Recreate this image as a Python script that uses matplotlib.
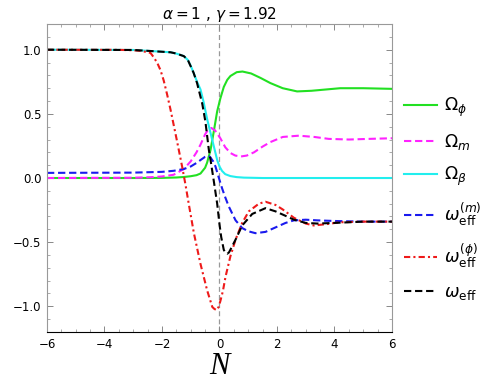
import numpy as np
import matplotlib
matplotlib.use("Agg")
import matplotlib.pyplot as plt

# values
N_phi = [-6, -3, -2, -1.5, -1.24, -1.0, -0.8, -0.66, -0.5, -0.43, -0.37, -0.31, -0.2, -0.08,
         0.03, 0.15, 0.27, 0.38, 0.6, 0.8, 1.1, 1.43, 1.77, 2.2, 2.7, 3.2, 3.7, 4.2, 5.0, 6]
Omega_phi = [0, 0.0, 0.001, 0.004, 0.008, 0.014, 0.022, 0.035, 0.08, 0.12, 0.17, 0.22, 0.36, 0.52,
             0.62, 0.71, 0.765, 0.795, 0.825, 0.83, 0.815, 0.78, 0.74, 0.70, 0.675, 0.68, 0.69,
             0.70, 0.70, 0.695]

N_m = [-6, -3, -2.4, -2, -1.6, -1.24, -1.0, -0.8, -0.66, -0.5, -0.4, -0.28, -0.15, 0.03, 0.2,
       0.38, 0.55, 0.75, 0.95, 1.2, 1.5, 1.77, 2.2, 2.76, 3.3, 3.8, 4.5, 5.2, 6]
Omega_m = [0, 0.002, 0.006, 0.012, 0.025, 0.07, 0.13, 0.20, 0.26, 0.34, 0.375, 0.39, 0.37, 0.31,
           0.24, 0.195, 0.175, 0.168, 0.175, 0.20, 0.245, 0.28, 0.32, 0.33, 0.32, 0.305, 0.30,
           0.305, 0.31]

N_beta = [-6, -3, -2.4, -1.7, -1.5, -1.24, -1.1, -1.0, -0.9, -0.78, -0.66, -0.55, -0.43, -0.31,
          -0.2, -0.08, 0.0, 0.09, 0.2, 0.38, 0.6, 0.85, 1.5, 6]
Omega_beta = [1.0, 0.998, 0.99, 0.98, 0.97, 0.95, 0.92, 0.875, 0.82, 0.75, 0.69, 0.59, 0.46, 0.35,
              0.25, 0.14, 0.09, 0.055, 0.03, 0.015, 0.007, 0.003, 0.0, 0]

N_wm = [-6, -3, -2, -1.6, -1.24, -1.0, -0.78, -0.66, -0.5, -0.43, -0.38, -0.33, -0.22, -0.14,
        -0.02, 0.09, 0.2, 0.32, 0.45, 0.56, 0.79, 1.0, 1.25, 1.6, 1.95, 2.3, 2.59, 3.0, 3.4, 4.0,
        5, 6]
w_m = [0.04, 0.042, 0.048, 0.056, 0.07, 0.09, 0.12, 0.14, 0.165, 0.17, 0.172, 0.165, 0.13, 0.09,
       0.0, -0.08, -0.15, -0.22, -0.28, -0.33, -0.39, -0.415, -0.43, -0.42, -0.385, -0.35, -0.33,
       -0.325, -0.33, -0.335, -0.34, -0.34]

N_wphi = [-6, -3.5, -3.0, -2.7, -2.6, -2.4, -2.3, -2.17, -2.05, -1.94, -1.82, -1.7, -1.58, -1.47,
          -1.3, -1.18, -1.07, -0.89, -0.66, -0.43, -0.25, -0.18, -0.1, -0.03, 0.03, 0.12, 0.21,
          0.38, 0.56, 0.79, 1.02, 1.37, 1.6, 1.95, 2.2, 2.59, 3.0, 3.28, 3.7, 4.2, 5, 6]
w_phi = [1.0, 0.999, 0.996, 0.99, 0.985, 0.975, 0.945, 0.90, 0.84, 0.76, 0.65, 0.53, 0.40, 0.28,
         0.09, -0.055, -0.2, -0.43, -0.67, -0.875, -1.005, -1.02, -1.03, -1.005, -0.96, -0.88,
         -0.77, -0.61, -0.48, -0.35, -0.26, -0.2, -0.185, -0.21, -0.245, -0.31, -0.355, -0.37,
         -0.36, -0.345, -0.34, -0.34]

N_weff = [-6, -3, -2.4, -1.7, -1.5, -1.24, -1.1, -1.0, -0.9, -0.78, -0.6, -0.49, -0.37, -0.31,
          -0.2, -0.08, 0.0, 0.06, 0.15, 0.2, 0.27, 0.33, 0.4, 0.56, 0.79, 1.14, 1.6, 1.95, 2.3,
          2.59, 3.0, 3.4, 4.0, 5, 6]
w_eff = [1.0, 0.998, 0.99, 0.98, 0.97, 0.95, 0.92, 0.87, 0.82, 0.74, 0.58, 0.44, 0.22, 0.14,
         -0.02, -0.2, -0.36, -0.46, -0.56, -0.58, -0.59, -0.58, -0.55, -0.48, -0.37, -0.28,
         -0.235, -0.26, -0.295, -0.325, -0.35, -0.355, -0.35, -0.34, -0.34]

x_ticks = [-6, -4, -2, 0, 2, 4, 6]
y_ticks = [-1.0, -0.5, 0.0, 0.5, 1.0]

plt.rcParams['mathtext.fontset'] = 'dejavusans'
fig = plt.figure(figsize=(4.91, 3.82), dpi=100)
ax = fig.add_axes([0.0957, 0.131, 0.7026, 0.806])

ax.axvline(0, color='#999999', lw=0.9, ls=(0, (4, 2.5)), zorder=1)

lw = 1.5
ax.plot(N_phi, Omega_phi, color='#22e022', lw=lw, label=r'$\Omega_\phi$')
ax.plot(N_m, Omega_m, color='#ff22ff', lw=lw, ls=(0, (3.5, 1.8)), label=r'$\Omega_m$')
ax.plot(N_beta, Omega_beta, color='#22eeee', lw=lw, label=r'$\Omega_\beta$')
ax.plot(N_wm, w_m, color='#1a1aee', lw=lw, ls=(0, (3.5, 1.8)), label=r'$\omega_{\rm eff}^{(m)}$')
ax.plot(N_wphi, w_phi, color='#ee1a1a', lw=lw, ls=(0, (3, 1.5, 1, 1.5)),
        label=r'$\omega_{\rm eff}^{(\phi)}$')
ax.plot(N_weff, w_eff, color='black', lw=lw, ls=(0, (3.5, 1.8)), label=r'$\omega_{\rm eff}$')

ax.set_xlim(-6, 6)
ax.set_ylim(-1.2, 1.2)
ax.set_xticks(x_ticks)
ax.set_xticklabels(['\u22126', '\u22124', '\u22122', '0', '2', '4', '6'])
ax.set_yticks(y_ticks)
ax.set_yticklabels(['\u22121.0', '\u22120.5', '0.0', '0.5', '1.0'])
ax.set_xticks(np.arange(-6, 6.01, 0.5), minor=True)
ax.set_yticks(np.arange(-1.2, 1.21, 0.1), minor=True)
ax.tick_params(which='both', direction='in', top=True, right=True, color='#888888',
               labelsize=8.5, pad=4)
ax.tick_params(which='major', length=4, width=0.7)
ax.tick_params(which='minor', length=2, width=0.5)
for side in ['left', 'top', 'right']:
    ax.spines[side].set_color('#999999')
ax.spines['bottom'].set_color('black')

ax.set_title(r'$\alpha = 1$ , $\gamma = 1.92$', fontsize=11, pad=4)
ax.set_xlabel('N', fontsize=22, family='Liberation Serif', style='italic', labelpad=1)

leg = ax.legend(loc='upper left', bbox_to_anchor=(1.015, 0.79), frameon=False, fontsize=12.5,
                handlelength=1.9, handletextpad=0.4, labelspacing=0.74, borderaxespad=0)

fig.savefig('out.png', dpi=100)
